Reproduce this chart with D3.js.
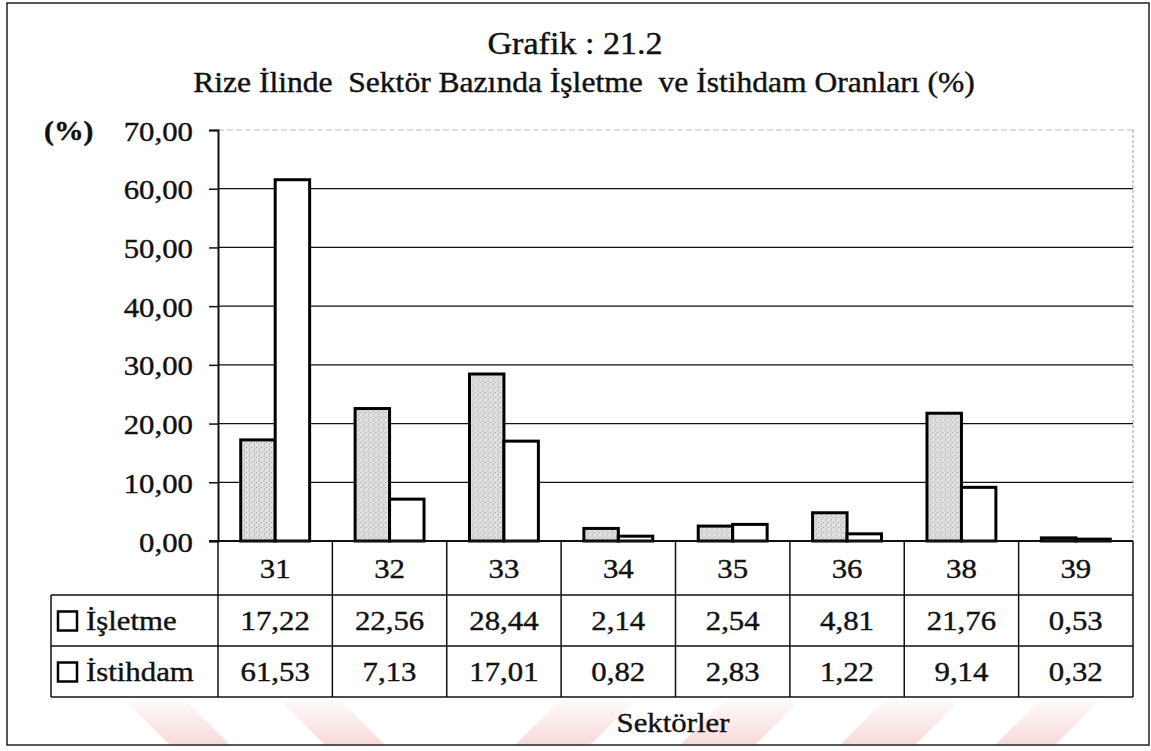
<!DOCTYPE html>
<html lang="tr">
  <head>
    <meta charset="UTF-8" />
    <script src="https://d3js.org/d3.v7.min.js"></script>
    <style>
      body { margin: 0; background: #fff; }
    </style>
  </head>
  <body>
    <svg id="chart" width="1151" height="751"></svg>
    <script>
      // data
      const sectors = ["31", "32", "33", "34", "35", "36", "38", "39"];
      const series = ["İşletme", "İstihdam"];
      const isletme = [17.22, 22.56, 28.44, 2.14, 2.54, 4.81, 21.76, 0.53];
      const istihdam = [61.53, 7.13, 17.01, 0.82, 2.83, 1.22, 9.14, 0.32];
      const yTicks = [0, 10, 20, 30, 40, 50, 60, 70];
      const values = [isletme, istihdam];

      const svg = d3.select("#chart");
      const serif = "'Liberation Serif', 'DejaVu Serif', serif";
      const fs = 28, sx = 1.1; // scanned text is a bit wider than tall

      // Turkish number format: 17,22
      const tr = d3.formatLocale({ decimal: ",", thousands: ".", grouping: [3], currency: ["", " TL"] });
      const fmt = tr.format(".2f");

      // text helper (stretched horizontally)
      function label(x, y, str, anchor, size, weight) {
        return svg.append("text")
          .attr("transform", `translate(${x},${y}) scale(${sx},1)`)
          .attr("text-anchor", anchor || "middle")
          .style("font-family", serif)
          .style("font-size", (size || fs) + "px")
          .style("font-weight", weight || "normal")
          .style("white-space", "pre")
          .style("fill", "#111")
          .style("stroke", "#111").style("stroke-width", 0.4)
          .text(str);
      }

      // stipple fill for the first series
      const defs = svg.append("defs");
      const pat = defs.append("pattern").attr("id", "stipple")
        .attr("width", 5).attr("height", 5).attr("patternUnits", "userSpaceOnUse");
      pat.append("rect").attr("width", 5).attr("height", 5).attr("fill", "#e2e2e2");
      [[1, 1], [3.5, 2.5], [1.5, 4]].forEach(p =>
        pat.append("circle").attr("cx", p[0]).attr("cy", p[1]).attr("r", 0.6).attr("fill", "#8a8a8a"));

      // watermark gradient
      const grad = defs.append("linearGradient").attr("id", "wm")
        .attr("x1", 0).attr("y1", 1).attr("x2", 0).attr("y2", 0);
      grad.append("stop").attr("offset", 0).attr("stop-color", "#f6c4c4").attr("stop-opacity", 0.65);
      grad.append("stop").attr("offset", 1).attr("stop-color", "#f6c4c4").attr("stop-opacity", 0.08);

      // faint watermark stripes under the table
      const stripes = [[125, 60, 1], [280, 60, 1], [560, 75, -1], [725, 75, -1], [885, 75, -1], [1040, 60, -1]];
      stripes.forEach(s => {
        const x = s[0], w = s[1], d = s[2] * 45;
        svg.append("path")
          .attr("d", `M${x},700 L${x + w},700 L${x + w + d},745 L${x + d},745 Z`)
          .attr("fill", "url(#wm)");
      });

      // outer frame
      svg.append("rect").attr("x", 7).attr("y", 3).attr("width", 1142).attr("height", 742)
        .attr("fill", "none").attr("stroke", "#222").attr("stroke-width", 1.5);

      // titles
      label(575, 54, "Grafik : 21.2", "middle", 31);
      label(584, 92, "Rize İlinde  Sektör Bazında İşletme  ve İstihdam Oranları (%)", "middle", 28.7);

      // scales
      const y = d3.scaleLinear().domain([0, 70]).range([541, 130]);
      const x0 = d3.scaleBand().domain(sectors).range([218, 1133]).padding(0);
      const x1 = d3.scaleBand().domain(series).range([0, x0.bandwidth()])
        .paddingInner(0).paddingOuter(0.66);

      // plot frame: faint top and right edges
      svg.append("line").attr("x1", 218).attr("x2", 1133).attr("y1", y(70)).attr("y2", y(70))
        .attr("stroke", "#bbb").attr("stroke-dasharray", "6,3");
      svg.append("line").attr("x1", 1133).attr("x2", 1133).attr("y1", y(70)).attr("y2", 541)
        .attr("stroke", "#999").attr("stroke-dasharray", "3,2");

      // gridlines
      svg.append("g").selectAll("line")
        .data(yTicks.filter(v => v > 0 && v < 70))
        .join("line")
        .attr("x1", 218).attr("x2", 1133)
        .attr("y1", d => y(d)).attr("y2", d => y(d))
        .attr("stroke", "#111").attr("stroke-width", 1.3);

      // y axis
      const yAxis = svg.append("g").attr("transform", "translate(218,0)")
        .call(d3.axisLeft(y).tickValues(yTicks).tickFormat(fmt).tickSize(9).tickPadding(0));
      yAxis.attr("font-family", null).attr("font-size", null);
      yAxis.select(".domain").attr("stroke", "#111").attr("stroke-width", 2);
      yAxis.selectAll(".tick line").attr("stroke", "#111").attr("stroke-width", 1.5);
      yAxis.selectAll(".tick text")
        .attr("x", 0).attr("dy", null).attr("y", 10)
        .attr("transform", `translate(-25,0) scale(${sx},1)`)
        .style("font-size", fs + "px").style("fill", "#111")
        .style("stroke", "#111").style("stroke-width", 0.4)
        .style("font-family", serif);
      label(44, 140, "(%)", "start", 27, "bold");

      // bars
      svg.append("g").selectAll("g")
        .data(sectors)
        .join("g")
        .attr("transform", d => `translate(${x0(d)},0)`)
        .selectAll("rect")
        .data((d, i) => series.map((s, j) => ({ s: s, v: values[j][i] })))
        .join("rect")
        .attr("x", d => x1(d.s))
        .attr("width", x1.bandwidth())
        .attr("y", d => y(d.v))
        .attr("height", d => y(0) - y(d.v))
        .attr("fill", d => d.s === series[0] ? "url(#stipple)" : "#fff")
        .attr("stroke", "#000").attr("stroke-width", 3);

      // x axis line
      svg.append("line").attr("x1", 209).attr("x2", 1133).attr("y1", 541).attr("y2", 541)
        .attr("stroke", "#111").attr("stroke-width", 2);

      // data table
      const rowTop = [541, 595, 646, 697];
      const tbl = svg.append("g").attr("stroke", "#111").attr("stroke-width", 1.5);
      [595, 646, 697].forEach(v =>
        tbl.append("line").attr("x1", 51).attr("x2", 1133).attr("y1", v).attr("y2", v));
      tbl.append("line").attr("x1", 51).attr("x2", 51).attr("y1", 595).attr("y2", 697);
      sectors.concat(["end"]).forEach((d, i) => {
        const xv = i < sectors.length ? x0(d) : 1133;
        tbl.append("line").attr("x1", xv).attr("x2", xv).attr("y1", 541).attr("y2", 697);
      });

      // category labels
      sectors.forEach(d => label(x0(d) + x0.bandwidth() / 2, 578, d));

      // values
      values.forEach((arr, j) => {
        arr.forEach((v, i) => label(x0(sectors[i]) + x0.bandwidth() / 2, rowTop[j + 1] + 35, fmt(v)));
      });

      // legend keys and row names
      series.forEach((s, j) => {
        const cy = (rowTop[j + 1] + rowTop[j + 2]) / 2;
        svg.append("rect").attr("x", 58).attr("y", cy - 9).attr("width", 19).attr("height", 19)
          .attr("fill", "#fff").attr("stroke", "#000").attr("stroke-width", 2.5);
        label(86, rowTop[j + 1] + 35, s, "start");
      });

      // axis title
      label(673, 732, "Sektörler");
    </script>
  </body>
</html>
